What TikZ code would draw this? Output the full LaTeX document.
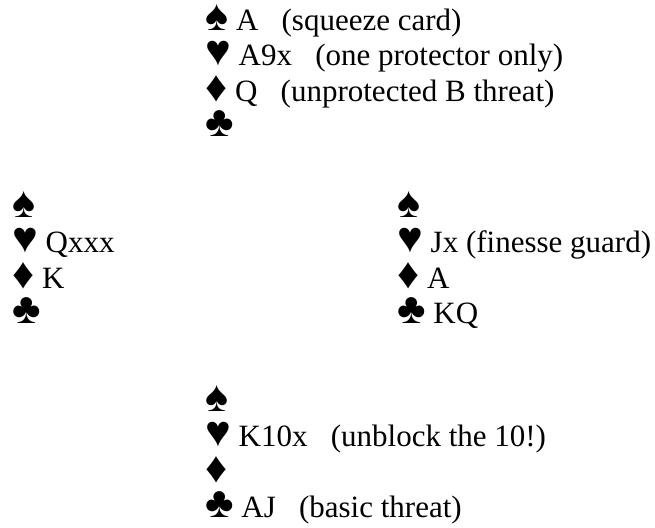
\documentclass[tikz,border=0pt]{standalone}
\usepackage{fontspec}
\setmainfont{Liberation Serif}
\usetikzlibrary{positioning}

\newcommand{\suit}[1]{\smash{\fontsize{43.4}{0}\selectfont#1}}
\newcommand{\gap}{\hspace{.75em}}

\begin{document}
\begin{tikzpicture}[
    x=1pt, y=-1pt,
    hand/.style={anchor=base west, align=left, inner sep=0pt,
      font=\fontsize{31}{35.5}\selectfont},
  ]
  \useasboundingbox (0,0) rectangle (655,527);
  % last baseline of each hand
  \node[hand] (north) at (205,136.5) {\suit{♠} A\gap(squeeze card)\\\suit{♥} A9x\gap(one protector only)\\\suit{♦} Q\gap(unprotected B threat)\\\suit{♣}};
  \node[hand] (west) at (12,323.5) {\suit{♠}\\\suit{♥} Qxxx\\\suit{♦} K\\\suit{♣}};
  \node[hand] (east) at (397,323.5) {\suit{♠}\\\suit{♥} Jx (finesse guard)\\\suit{♦} A\\\suit{♣} KQ};
  \node[hand] (south) at (205,517.5) {\suit{♠}\\\suit{♥} K10x\gap(unblock the 10!)\\\suit{♦}\\\suit{♣} AJ\gap(basic threat)};
\end{tikzpicture}
\end{document}
